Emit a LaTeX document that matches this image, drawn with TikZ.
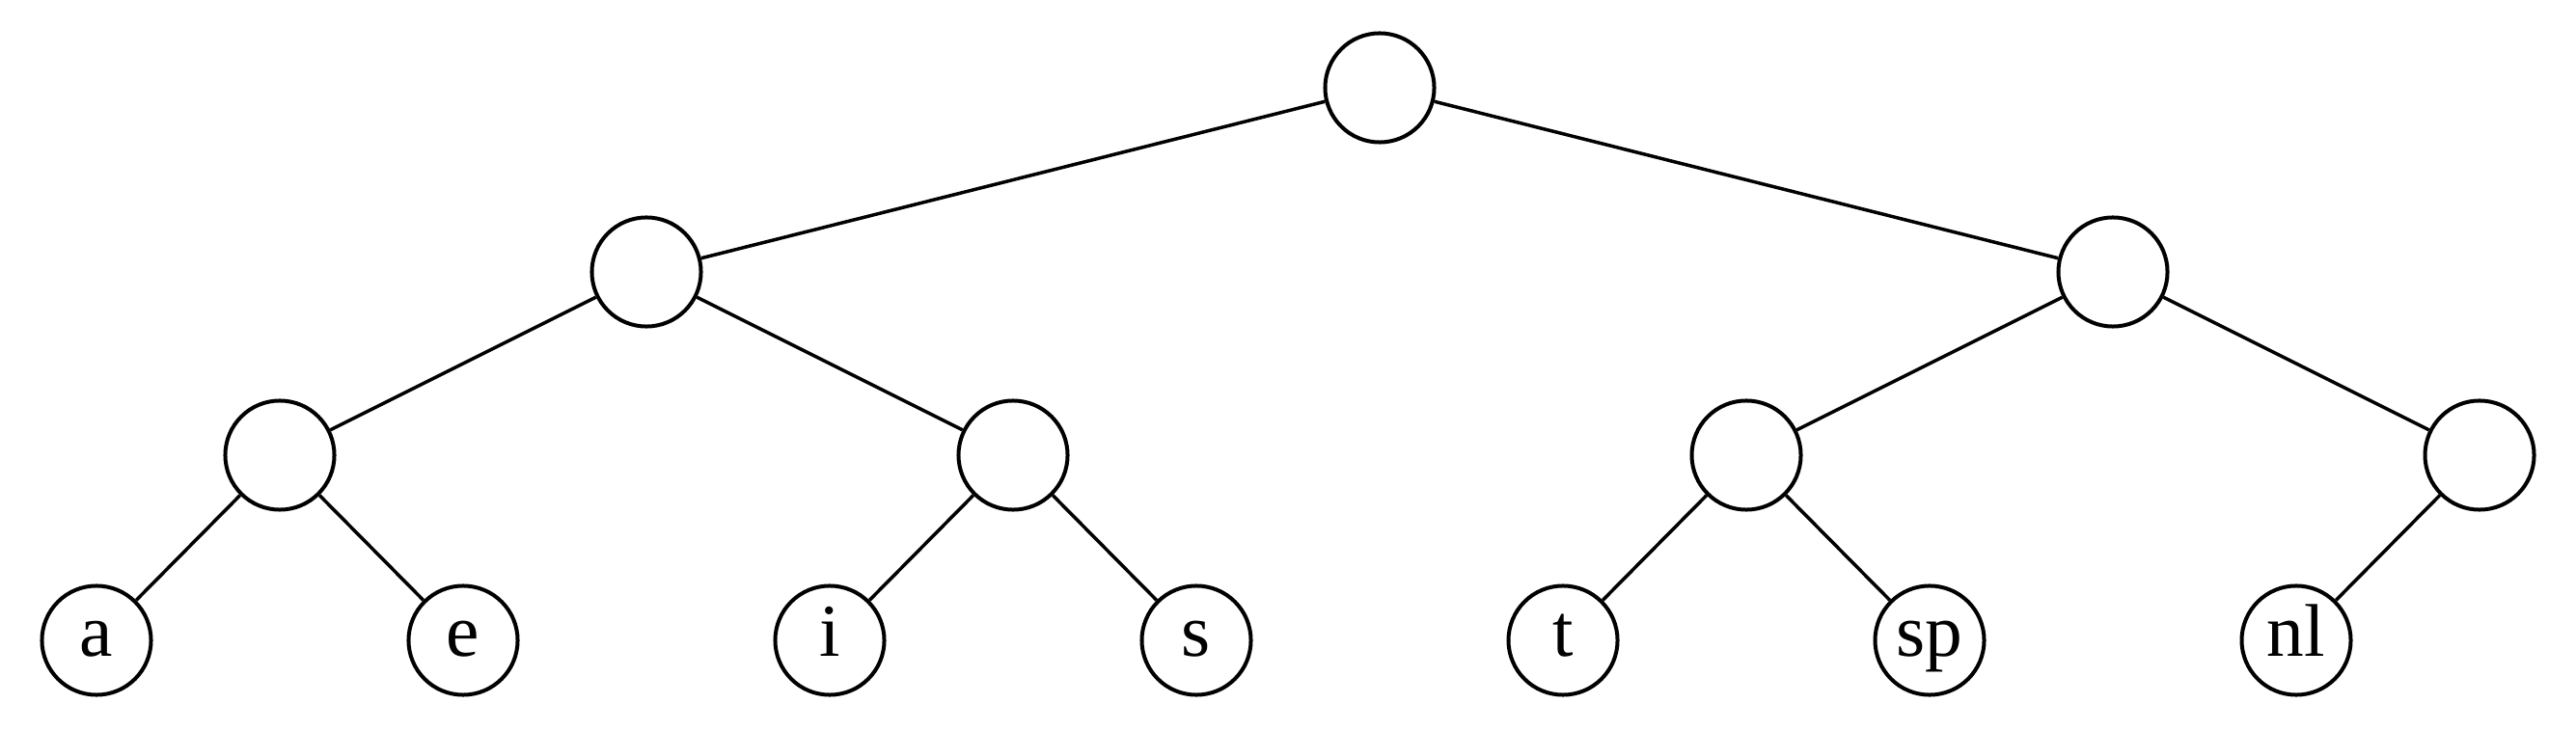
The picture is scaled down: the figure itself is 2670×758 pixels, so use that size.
\documentclass[tikz,border=0pt]{standalone}
\usepackage{fontspec}
\setmainfont{Liberation Serif}
\begin{document}
\begin{tikzpicture}[x=0.01cm,y=-0.01cm,
  treenode/.style={circle,draw=black,line width=0.04cm,minimum size=1.13cm,inner sep=0pt,
    font=\fontsize{22}{26}\selectfont,text height=0.42cm,text depth=0.10cm,fill=white},
  edge/.style={draw=black,line width=0.035cm}]
\useasboundingbox[fill=white] (0,0) rectangle (2670,758);
% levels
\node[treenode] (r) at (1430,91) {};
\node[treenode] (l) at (670,282) {};
\node[treenode] (rr) at (2190,282) {};
\node[treenode] (ll) at (290,472) {};
\node[treenode] (lr) at (1050,472) {};
\node[treenode] (rl) at (1810,472) {};
\node[treenode] (rrr) at (2570,472) {};
\node[treenode] (a) at (100,664) {a};
\node[treenode] (e) at (480,664) {e};
\node[treenode] (i) at (860,664) {i};
\node[treenode] (s) at (1240,664) {s};
\node[treenode] (t) at (1620,664) {t};
\node[treenode] (sp) at (2000,664) {sp};
\node[treenode] (nl) at (2380,664) {nl};
% edges
\draw[edge] (r) -- (l);
\draw[edge] (r) -- (rr);
\draw[edge] (l) -- (ll);
\draw[edge] (l) -- (lr);
\draw[edge] (rr) -- (rl);
\draw[edge] (rr) -- (rrr);
\draw[edge] (ll) -- (a);
\draw[edge] (ll) -- (e);
\draw[edge] (lr) -- (i);
\draw[edge] (lr) -- (s);
\draw[edge] (rl) -- (t);
\draw[edge] (rl) -- (sp);
\draw[edge] (rrr) -- (nl);
\end{tikzpicture}
\end{document}
